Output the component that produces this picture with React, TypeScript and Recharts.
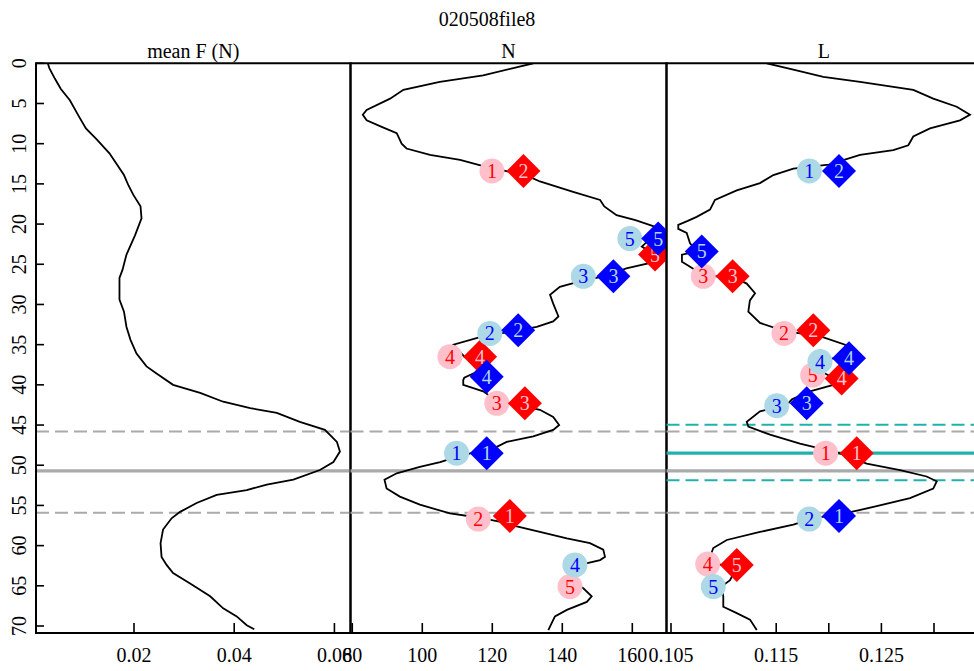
import React from "react";
import { ScatterChart, Scatter, XAxis, YAxis, ReferenceLine, ReferenceArea } from "recharts";

const FONT = '"Liberation Serif", "Times New Roman", serif';
const W = 974;
const H = 671;
const TOP = 63.3;
const BOTTOM = 633;
const Y_MAX = 70.87;

const depthTicks = [0, 5, 10, 15, 20, 25, 30, 35, 40, 45, 50, 55, 60, 65, 70];

// mean F (N) profile
const fDepth = [0, 0.6, 1.9, 3.2, 4.6, 6.6, 8.1, 9.5, 11.2, 12.6, 13.9, 15.2, 16.4, 17.8, 19.3, 21.4, 23.8, 25.7, 26.7, 29.4, 30.9, 32.8, 34.4, 36.1, 37.7, 38.6, 40.0, 41.0, 42.1, 42.9, 43.5, 44.6, 45.6, 47.1, 48.3, 49.6, 50.6, 51.8, 52.4, 53.1, 53.7, 54.7, 55.8, 56.6, 58.0, 59.7, 61.4, 62.4, 63.4, 64.7, 66.3, 67.8, 68.8, 69.9, 70.4];
const fMean = [0.0028, 0.0031, 0.0042, 0.0054, 0.0072, 0.009, 0.0104, 0.0126, 0.0151, 0.0166, 0.018, 0.0189, 0.0199, 0.0213, 0.0215, 0.0202, 0.0185, 0.0177, 0.0171, 0.0171, 0.018, 0.0185, 0.0193, 0.0205, 0.0225, 0.0245, 0.0278, 0.0332, 0.0378, 0.0432, 0.0485, 0.0531, 0.0581, 0.0605, 0.0611, 0.0598, 0.0571, 0.0518, 0.0465, 0.0425, 0.0365, 0.0325, 0.0292, 0.0275, 0.0258, 0.0253, 0.0255, 0.0265, 0.0278, 0.0312, 0.0352, 0.0378, 0.0405, 0.0425, 0.044];
const fTicks = [0.02, 0.04, 0.06];
const fTickLabels = ["0.02", "0.04", "0.06"];

// N profile
const nDepth = [0, 0.6, 1.5, 2.3, 3.3, 4.4, 5.8, 6.4, 7.1, 7.9, 8.7, 10.0, 10.6, 11.4, 12.0, 12.8, 13.4, 14.2, 14.7, 16.0, 17.0, 17.8, 18.9, 19.5, 20.3, 21.5, 22.8, 23.8, 24.9, 25.5, 26.5, 27.0, 27.8, 28.8, 29.9, 31.5, 32.1, 32.8, 33.4, 34.0, 35.0, 36.5, 37.5, 38.5, 39.1, 39.4, 40.0, 40.8, 41.6, 42.3, 43.1, 44.0, 45.0, 45.6, 46.4, 47.1, 48.0, 48.5, 49.2, 49.6, 50.2, 51.0, 51.8, 52.9, 53.9, 54.9, 56.0, 56.5, 57.0, 57.6, 58.3, 59.1, 59.7, 60.5, 61.4, 61.8, 62.4, 63.0, 64.5, 65.3, 66.3, 67.0, 68.0, 68.8, 70.5];
const nVal = [131.7, 126, 117.4, 105, 94.6, 90.8, 84.1, 83, 84.1, 88.4, 92.7, 94.1, 95.5, 102.2, 110.8, 117.4, 124, 131, 133.6, 143.1, 150.8, 152, 155.5, 160.9, 166.2, 166, 162.7, 166.5, 164.5, 158.3, 152, 146, 139.3, 136.5, 137.4, 138.9, 137.4, 132.7, 125, 117, 108.9, 112, 117, 115, 112, 111.7, 111.7, 117.4, 120, 125, 133.6, 137.4, 139.1, 137.4, 131.7, 124.1, 120, 114, 108, 105.1, 99.3, 92.7, 89.2, 89.8, 93.6, 99.3, 107.9, 116, 122, 127, 133.6, 141.3, 147.9, 151.7, 152.2, 150.8, 145, 142, 143, 146, 148.4, 147, 141.3, 137.9, 136];
const nTicks = [80, 100, 120, 140, 160];
const nTickLabels = ["80", "100", "120", "140", "160"];

// L profile
const lDepth = [0, 0.8, 1.7, 2.3, 3.3, 4.4, 5.4, 6.4, 7.1, 8.1, 9.1, 10.2, 10.8, 11.4, 12.6, 13.1, 13.9, 14.9, 15.8, 17.0, 18.2, 19.1, 19.6, 20.1, 20.6, 21.1, 22.4, 23.4, 23.8, 24.7, 25.3, 26.3, 26.8, 27.4, 28.6, 29.5, 30.9, 32.3, 33.4, 33.8, 35.0, 36.2, 37.0, 38.5, 39.5, 40.0, 40.8, 41.8, 42.5, 43.3, 44.6, 45.2, 46.2, 47.3, 48.5, 49.8, 50.6, 51.4, 52.0, 52.9, 54.1, 55.1, 56.0, 56.6, 57.4, 58.3, 59.3, 60.3, 61.4, 62.3, 62.8, 64.3, 65.1, 66.3, 67.6, 68.4, 69.2, 70.5];
const lVal = [0.1141, 0.11663, 0.11948, 0.12297, 0.12803, 0.12993, 0.13216, 0.13342, 0.13247, 0.12962, 0.12803, 0.12756, 0.12613, 0.12297, 0.12, 0.11663, 0.11473, 0.11346, 0.11125, 0.10918, 0.10871, 0.10744, 0.1066, 0.10569, 0.10569, 0.10649, 0.10681, 0.1075, 0.10604, 0.10604, 0.10681, 0.108, 0.1112, 0.1122, 0.11299, 0.1125, 0.11235, 0.11346, 0.116, 0.1188, 0.12154, 0.122, 0.1195, 0.1195, 0.121, 0.12043, 0.11821, 0.1165, 0.116, 0.11346, 0.1122, 0.11235, 0.11441, 0.11726, 0.121, 0.1236, 0.12677, 0.1293, 0.13026, 0.12993, 0.12772, 0.12455, 0.1215, 0.1185, 0.11663, 0.11346, 0.1103, 0.10902, 0.10871, 0.1095, 0.1112, 0.11061, 0.1098, 0.10997, 0.10997, 0.11125, 0.11251, 0.11315];
const lTicks = [0.105, 0.11, 0.115, 0.12, 0.125, 0.13];
const lTickLabels = ["0.105", "", "0.115", "", "0.125", ""];

// markers: [depth, value, label]
type Mark = [number, number, string];
const nPinkCircles: Mark[] = [[13.4, 119.9, "1"], [36.5, 107.9, "4"], [42.3, 121.3, "3"], [56.7, 116, "2"], [65.1, 142.2, "5"]];
const nRedDiamonds: Mark[] = [[13.4, 128.9, "2"], [23.8, 166.5, "5"], [36.5, 116.5, "4"], [42.3, 129.3, "3"], [56.3, 125, "1"]];
const nBlueCircles: Mark[] = [[21.8, 159.3, "5"], [26.5, 146, "3"], [33.6, 119.3, "2"], [48.5, 109.8, "1"], [62.4, 143.6, "4"]];
const nBlueDiamonds: Mark[] = [[21.8, 167.4, "5"], [26.5, 154.6, "3"], [33.2, 127.4, "2"], [39.0, 118.4, "4"], [48.5, 118.4, "1"]];

const lPinkCircles: Mark[] = [[26.5, 0.10807, "3"], [33.6, 0.11574, "2"], [38.8, 0.11847, "5"], [48.5, 0.1197, "1"], [62.3, 0.10849, "4"]];
const lRedDiamonds: Mark[] = [[26.5, 0.11086, "3"], [33.2, 0.11853, "2"], [39.2, 0.12122, "4"], [48.5, 0.12265, "1"], [62.4, 0.11125, "5"]];
const lBlueCircles: Mark[] = [[13.4, 0.11815, "1"], [37.1, 0.11916, "4"], [42.6, 0.11505, "3"], [56.7, 0.11815, "2"], [65.1, 0.10902, "5"]];
const lBlueDiamonds: Mark[] = [[13.4, 0.12097, "2"], [23.4, 0.10792, "5"], [36.7, 0.12192, "4"], [42.3, 0.1179, "3"], [56.3, 0.12097, "1"]];

// horizontal guides (depth)
const grayDashed = [45.8, 55.9];
const graySolid = [50.7];
const tealDashed = [44.97, 51.88];
const tealSolid = [48.5];

const toPoints = (depth: number[], vals: number[]) => depth.map((d, i) => ({ x: vals[i], y: d }));
const toMarks = (m: Mark[]) => m.map(([d, v, label]) => ({ x: v, y: d, label }));

function markShape(kind: "circle" | "diamond", fill: string, textColor: string) {
  return (p: any) => {
    const { cx, cy } = p;
    const label = p.payload?.label;
    const s = 17;
    return (
      <g>
        {kind === "circle" ? (
          <circle cx={cx} cy={cy} r={12.5} fill={fill} />
        ) : (
          <polygon points={`${cx},${cy - s} ${cx + s},${cy} ${cx},${cy + s} ${cx - s},${cy}`} fill={fill} />
        )}
        <text x={cx} y={cy + 7} textAnchor="middle" fill={textColor} fontFamily={FONT} fontSize={20}>
          {label}
        </text>
      </g>
    );
  };
}

const pinkCircle = markShape("circle", "#FFC0CB", "#FF0000");
const redDiamond = markShape("diamond", "#FF0000", "#FFC0CB");
const blueCircle = markShape("circle", "#ADD8E6", "#0000FF");
const blueDiamond = markShape("diamond", "#0000FF", "#ADD8E6");

function xTick(ticks: number[], labels: string[]) {
  return (p: any) => {
    const v = p.payload?.value;
    const i = ticks.findIndex((t) => Math.abs(t - v) < 1e-9);
    return (
      <g>
        <line x1={p.x} x2={p.x} y1={BOTTOM} y2={BOTTOM - 10} stroke="#000" strokeWidth={1.6} />
        <text x={p.x} y={661.5} textAnchor="middle" fontFamily={FONT} fontSize={20} fill="#000">
          {i >= 0 ? labels[i] : ""}
        </text>
      </g>
    );
  };
}

function yTick(left: number) {
  return (p: any) => (
    <g>
      <line x1={left} x2={left + 8} y1={p.y} y2={p.y} stroke="#000" strokeWidth={1.6} />
      <text
        x={26.5}
        y={p.y}
        transform={`rotate(-90, 26.5, ${p.y})`}
        textAnchor="middle"
        fontFamily={FONT}
        fontSize={20}
        fill="#000"
      >
        {p.payload?.value}
      </text>
    </g>
  );
}

type PanelProps = {
  left: number;
  right: number;
  width: number;
  domain: [number, number];
  ticks: number[];
  tickLabels: string[];
  depth: number[];
  values: number[];
  marks?: { pink: Mark[]; red: Mark[]; lblue: Mark[]; blue: Mark[] };
  teal?: boolean;
  showY?: boolean;
};

function Panel({ left, right, width, domain, ticks, tickLabels, depth, values, marks, teal, showY }: PanelProps) {
  return (
    <div style={{ position: "absolute", left: 0, top: 0 }}>
      <ScatterChart
        width={width}
        height={H}
        margin={{ top: TOP, bottom: 0, left: showY ? 0 : left, right: width - right }}
      >
        <XAxis
          type="number"
          dataKey="x"
          domain={domain}
          allowDataOverflow
          ticks={ticks}
          interval={0}
          height={H - BOTTOM}
          tickLine={false}
          axisLine={{ stroke: "#000", strokeWidth: 2 }}
          tick={xTick(ticks, tickLabels)}
        />
        <YAxis
          type="number"
          dataKey="y"
          domain={[0, Y_MAX]}
          reversed
          allowDataOverflow
          hide={!showY}
          width={showY ? left : 0}
          ticks={depthTicks}
          interval={0}
          tickLine={false}
          axisLine={{ stroke: "#000", strokeWidth: 2 }}
          tick={yTick(left)}
        />
        <ReferenceArea x1={domain[0]} x2={domain[1]} y1={0} y2={Y_MAX} fill="none" stroke="#000" strokeWidth={2} />
        {grayDashed.map((d) => (
          <ReferenceLine key={`gd${d}`} y={d} stroke="#AAAAAA" strokeWidth={2} strokeDasharray="13 6" />
        ))}
        {graySolid.map((d) => (
          <ReferenceLine key={`gs${d}`} y={d} stroke="#AAAAAA" strokeWidth={3.3} />
        ))}
        {teal &&
          tealDashed.map((d) => (
            <ReferenceLine key={`td${d}`} y={d} stroke="#20B2AA" strokeWidth={2} strokeDasharray="13 6" />
          ))}
        {teal &&
          tealSolid.map((d) => <ReferenceLine key={`ts${d}`} y={d} stroke="#20B2AA" strokeWidth={3.3} />)}
        <Scatter
          data={toPoints(depth, values)}
          fill="#000"
          line={{ stroke: "#000", strokeWidth: 1.8 }}
          lineType="joint"
          shape={() => <g />}
          isAnimationActive={false}
        />
        {marks && (
          <Scatter data={toMarks(marks.pink)} shape={pinkCircle} isAnimationActive={false} />
        )}
        {marks && (
          <Scatter data={toMarks(marks.red)} shape={redDiamond} isAnimationActive={false} />
        )}
        {marks && (
          <Scatter data={toMarks(marks.lblue)} shape={blueCircle} isAnimationActive={false} />
        )}
        {marks && (
          <Scatter data={toMarks(marks.blue)} shape={blueDiamond} isAnimationActive={false} />
        )}
      </ScatterChart>
    </div>
  );
}

export default function App() {
  return (
    <div
      style={{
        position: "absolute",
        left: 0,
        top: 0,
        width: W,
        height: H,
        overflow: "hidden",
        background: "#fff",
      }}
    >
      <Panel
        left={36}
        right={350.5}
        width={W}
        domain={[0.00044, 0.06321]}
        ticks={fTicks}
        tickLabels={fTickLabels}
        depth={fDepth}
        values={fMean}
        showY
      />
      <Panel
        left={350.5}
        right={666.5}
        width={W}
        domain={[79.49, 169.77]}
        ticks={nTicks}
        tickLabels={nTickLabels}
        depth={nDepth}
        values={nVal}
        marks={{ pink: nPinkCircles, red: nRedDiamonds, lblue: nBlueCircles, blue: nBlueDiamonds }}
      />
      <Panel
        left={666.5}
        right={981}
        width={990}
        domain={[0.104572, 0.134468]}
        ticks={lTicks}
        tickLabels={lTickLabels}
        depth={lDepth}
        values={lVal}
        marks={{ pink: lPinkCircles, red: lRedDiamonds, lblue: lBlueCircles, blue: lBlueDiamonds }}
        teal
      />
      <svg width={W} height={H} style={{ position: "absolute", left: 0, top: 0, pointerEvents: "none" }}>
        <text x={487} y={26} textAnchor="middle" fontFamily={FONT} fontSize={20} fill="#000">
          020508file8
        </text>
        <text x={193.25} y={58} textAnchor="middle" fontFamily={FONT} fontSize={20} fill="#000">
          mean F (N)
        </text>
        <text x={508.5} y={58} textAnchor="middle" fontFamily={FONT} fontSize={20} fill="#000">
          N
        </text>
        <text x={823.75} y={58} textAnchor="middle" fontFamily={FONT} fontSize={20} fill="#000">
          L
        </text>
      </svg>
    </div>
  );
}
